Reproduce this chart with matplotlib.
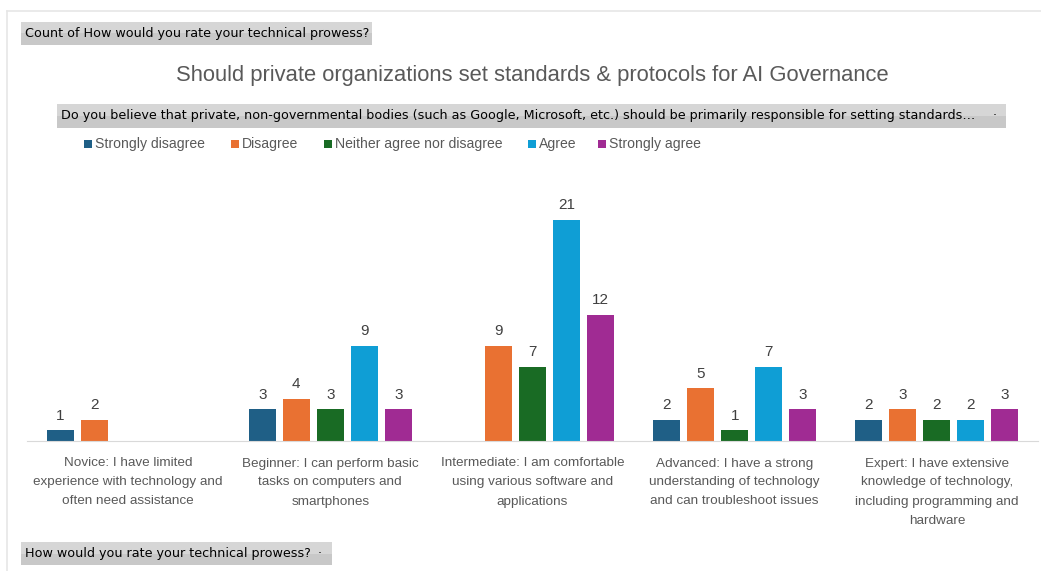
import matplotlib.pyplot as plt
import numpy as np
from matplotlib.patches import Rectangle
from matplotlib.lines import Line2D
from matplotlib.transforms import blended_transform_factory

categories = [
    "Novice: I have limited\nexperience with technology and\noften need assistance",
    "Beginner: I can perform basic\ntasks on computers and\nsmartphones",
    "Intermediate: I am comfortable\nusing various software and\napplications",
    "Advanced: I have a strong\nunderstanding of technology\nand can troubleshoot issues",
    "Expert: I have extensive\nknowledge of technology,\nincluding programming and\nhardware",
]
series = ["Strongly disagree", "Disagree", "Neither agree nor disagree", "Agree", "Strongly agree"]
strongly_disagree = [1, 3, None, 2, 2]
disagree = [2, 4, 9, 5, 3]
neither = [None, 3, 7, 1, 2]
agree = [None, 9, 21, 7, 2]
strongly_agree = [None, 3, 12, 3, 3]
values = [strongly_disagree, disagree, neither, agree, strongly_agree]
colors = ["#1F5F86", "#E97132", "#196B24", "#0F9ED5", "#A02B93"]

W, H = 1041, 571
fig = plt.figure(figsize=(W / 100, H / 100), dpi=100)
fig.patch.set_facecolor("white")

def fx(px):
    return px / W

def fy(py):
    return 1 - py / H

# axes: baseline at y=441, left 27, right 1038
ax = fig.add_axes([fx(27), fy(441), fx(1038) - fx(27), (441 - 160) / H])
ax.set_xlim(-0.5, 4.5)
ax.set_ylim(0, 281 / 10.52)

x = np.arange(len(categories))
bw = 27 / 202
step = 34 / 202
for i, (name, vals, c) in enumerate(zip(series, values, colors)):
    xs = [xi + (i - 2) * step for xi, v in zip(x, vals) if v is not None]
    vs = [v for v in vals if v is not None]
    ax.bar(xs, vs, width=bw, color=c, label=name)
    for bx, v in zip(xs, vs):
        ax.text(bx, v + 0.75, str(v), ha="center", va="bottom", fontsize=11,
                color="#404040", family="Liberation Sans")

for s in ["top", "right", "left"]:
    ax.spines[s].set_visible(False)
ax.spines["bottom"].set_color("#D9D9D9")
ax.set_yticks([])
ax.set_xticks([])

# category labels, one line at a time so the spacing stays even
lab_tr = blended_transform_factory(ax.transData, fig.transFigure)
for xi, lab in zip(x, categories):
    for k, line in enumerate(lab.split("\n")):
        ax.text(xi, fy(466.5 + 19 * k), line, ha="center", va="baseline", fontsize=9.7,
                color="#595959", family="Liberation Sans", transform=lab_tr)

# chart frame lines
fig.add_artist(Line2D([fx(7), fx(7)], [fy(11), 0], color="#E6E6E6", lw=1.2))
fig.add_artist(Line2D([fx(7), 1], [fy(11), fy(11)], color="#E6E6E6", lw=1.2))

# title
fig.text(fx(532), fy(75), "Should private organizations set standards & protocols for AI Governance",
         ha="center", va="center", fontsize=15.8, color="#595959", family="Liberation Sans")

def button(x0, y0, x1, y1, text, arrow_x=None):
    fig.add_artist(Rectangle((fx(x0), fy(y1)), fx(x1) - fx(x0), (y1 - y0) / H,
                             facecolor="#D6D6D6", edgecolor="none", transform=fig.transFigure))
    fig.add_artist(Rectangle((fx(x0), fy(y1)), fx(x1) - fx(x0), (y1 - y0) / H * 0.5,
                             facecolor="#C8C8C8", edgecolor="none", transform=fig.transFigure))
    fig.text(fx(x0 + 4), fy((y0 + y1) / 2), text, ha="left", va="center",
             fontsize=9.2, color="black", family="DejaVu Sans")
    if arrow_x is not None:
        fig.text(fx(arrow_x), fy((y0 + y1) / 2), "·", ha="center", va="center",
                 fontsize=9, color="black")

button(21, 22, 372, 45, "Count of How would you rate your technical prowess?")
button(57, 104, 1006, 128,
       "Do you believe that private, non-governmental bodies (such as Google, Microsoft, etc.) should be primarily responsible for setting standards\u2026",
       arrow_x=995)
button(21, 542, 332, 565, "How would you rate your technical prowess?", arrow_x=320)

# legend (manual placement to match the Excel layout)
legend_sq = [84, 231, 324, 528, 598]
for name, c, sx in zip(series, colors, legend_sq):
    fig.add_artist(Rectangle((fx(sx), fy(148)), 8 / W, 8 / H, facecolor=c,
                             edgecolor="none", transform=fig.transFigure))
    fig.text(fx(sx + 11), fy(144), name, ha="left", va="center", fontsize=10.1,
             color="#595959", family="Liberation Sans")

fig.savefig("out.png", dpi=100)
